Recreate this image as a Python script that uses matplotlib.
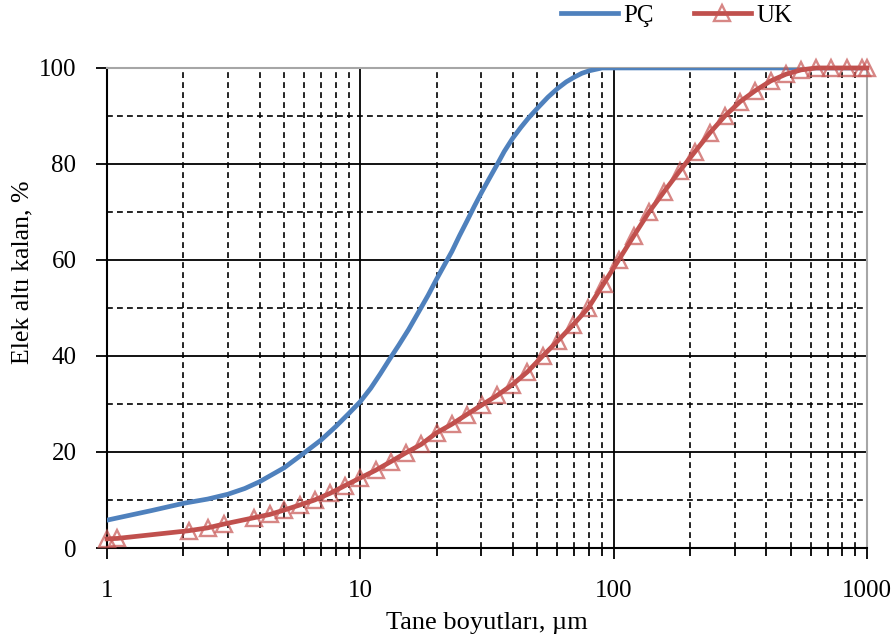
import matplotlib
matplotlib.use("Agg")
import matplotlib.pyplot as plt
from matplotlib.ticker import LogLocator, FixedLocator, NullFormatter

# PÇ particle size distribution (passing %)
pc_size = [1, 1.5, 2, 2.5, 3, 3.5, 4, 5, 6, 7, 8, 9, 10, 11, 12, 13, 14.2, 15.5,
           17, 18.5, 20, 21.5, 23, 24.6, 26.3, 28.2, 30.2, 32.4, 34.7, 37, 40,
           43, 46, 50, 55, 60, 65, 70, 75, 80, 90, 120, 200, 400, 700, 1000]
pc_pass = [5.8, 7.8, 9.3, 10.2, 11.2, 12.4, 13.8, 16.7, 19.8, 22.5, 25.3, 28, 30.5,
           33.3, 36.3, 39.2, 42.3, 45.5, 49.2, 52.6, 56, 59, 61.8, 65, 68, 71.2,
           74.2, 77.1, 79.9, 82.6, 85.4, 87.6, 89.5, 91.6, 93.9, 95.7, 97.1, 98.1,
           98.9, 99.4, 100, 100, 100, 100, 100, 100]

# UK particle size distribution
uk_size = [1.0, 1.1, 2.1, 2.5, 2.9, 3.8, 4.4, 5.0, 5.8, 6.6, 7.6, 8.7, 10, 11.5,
           13.2, 15.1, 17.4, 20, 23, 26.3, 30.2, 34.7, 39.8, 45.7, 52.5, 60.3,
           69.2, 79.4, 91.2, 104.7, 120, 138, 158, 182, 209, 240, 275, 316, 363,
           417, 479, 550, 631, 724, 832, 955, 1000]
uk_pass = [1.9, 2.0, 3.6, 4.2, 5.0, 6.3, 7.0, 7.9, 9.0, 10.0, 11.4, 13.0, 14.6,
           16.2, 18.0, 19.8, 21.6, 24, 25.8, 27.8, 29.8, 31.8, 34.0, 36.7, 40.0,
           43.2, 46.5, 50.0, 55.0, 60.0, 65, 70, 74.2, 78.5, 82.5, 86.5, 90, 93,
           95.3, 97.3, 98.7, 99.6, 100, 100, 100, 100, 100]

yticks = [0, 20, 40, 60, 80, 100]
xticks = [1, 10, 100, 1000]

plt.rcParams['font.family'] = ['Liberation Serif', 'DejaVu Serif']

blue = '#4F81BD'
red = '#C0504D'

fig = plt.figure(figsize=(8.96, 6.35), dpi=100)
ax = fig.add_axes([0.1194, 0.137, 0.8482, 0.756])

ax.set_xscale('log')
ax.set_xlim(1, 1000)
ax.set_ylim(0, 100)

# grid
dash = (0, (3.5, 2.5))
ax.xaxis.set_major_locator(FixedLocator(xticks))
ax.xaxis.set_minor_locator(LogLocator(base=10, subs=range(2, 10)))
ax.xaxis.set_minor_formatter(NullFormatter())
ax.set_xticklabels([str(t) for t in xticks])
ax.yaxis.set_major_locator(FixedLocator(yticks))
ax.yaxis.set_minor_locator(FixedLocator([10, 30, 50, 70, 90]))
ax.grid(True, which='major', color='black', lw=1.3, ls='-')
ax.grid(True, which='minor', color='black', lw=1.2, ls=dash)
ax.set_axisbelow(True)

ax.plot(pc_size, pc_pass, color=blue, lw=3.4, label='PÇ', zorder=3)
ax.plot(uk_size, uk_pass, color=red, lw=3.4, marker='^', ms=11,
        mfc='none', mec=(0.78, 0.33, 0.32, 0.7), mew=1.7,
        label='UK', zorder=4, clip_on=False)

for s in ['left', 'bottom']:
    ax.spines[s].set_color('black')
    ax.spines[s].set_linewidth(1.5)
for s in ['top', 'right']:
    ax.spines[s].set_color('#A6A6A6')
    ax.spines[s].set_linewidth(1.5)

ax.tick_params(axis='x', which='major', direction='out', length=8, width=1.3,
               pad=15, labelsize=18)
ax.tick_params(axis='x', which='minor', direction='out', length=6, width=1.3)
ax.tick_params(axis='y', which='major', direction='out', length=8, width=1.3,
               pad=14, labelsize=18)
ax.tick_params(axis='y', which='minor', length=0)

ax.set_xlabel('Tane boyutları, µm', fontsize=19)
ax.set_ylabel('Elek altı kalan, %', fontsize=18.5)
ax.xaxis.set_label_coords(0.5, -0.133)
ax.yaxis.set_label_coords(-0.097, 0.575)

fig.legend(loc='center', bbox_to_anchor=(0.755, 0.975), ncol=2, frameon=False,
           fontsize=18, handlelength=2.3, handletextpad=0.2, columnspacing=1.6)

fig.savefig('out.png', dpi=100)
